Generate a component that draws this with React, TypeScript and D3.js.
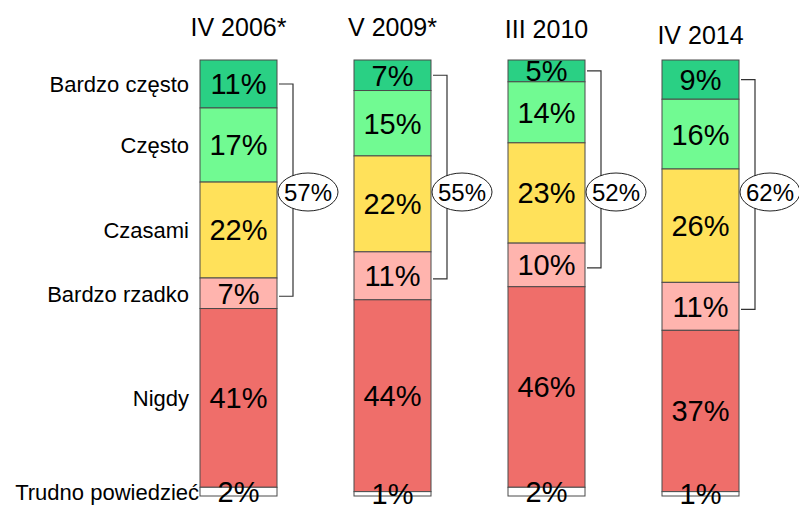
import * as React from "react";
import { useRef, useEffect } from "react";
import * as d3 from "d3";

// survey waves
const periods = ["IV 2006*", "V 2009*", "III 2010", "IV 2014"];
const categories = [
  "Bardzo często",
  "Często",
  "Czasami",
  "Bardzo rzadko",
  "Nigdy",
  "Trudno powiedzieć",
];
// percentages per period, in category order
const values2006 = [11, 17, 22, 7, 41, 2];
const values2009 = [7, 15, 22, 11, 44, 1];
const values2010 = [5, 14, 23, 10, 46, 2];
const values2014 = [9, 16, 26, 11, 37, 1];
const seriesValues = [values2006, values2009, values2010, values2014];
// "often" total shown in the bubble (first four categories)
const bracketTotals = [57, 55, 52, 62];

const colors = ["#2ad084", "#71fa92", "#ffe15a", "#ffb4ae", "#ef6e6a", "#ffffff"];
const titleDrop = [0, 0, 2, 8];

export default function App() {
  const _ref = useRef<HTMLDivElement>(null);
  useEffect(() => {
    const el = _ref.current;
    if (!el) return;
    el.innerHTML = "";
    const width = 799;
    const height = 505;
    const font = "'Liberation Sans', Arial, sans-serif";

    const svg = d3
      .select(el)
      .append("svg")
      .attr("width", width)
      .attr("height", height)
      .style("position", "absolute")
      .style("left", "0px")
      .style("top", "0px")
      .style("font-family", font);

    // bars 77 wide, 154 apart
    const x = d3.scaleBand().domain(periods).range([200, 739]).paddingInner(0.5).paddingOuter(0);
    const barW = x.bandwidth();

    const y = d3.scaleLinear().domain([0, 100]).range([60, 496]);

    periods.forEach((p, i) => {
      const vals = seriesValues[i];
      const cum = d3.cumsum(vals);
      const starts = vals.map((v, j) => cum[j] - v);
      const g = svg.append("g");
      const bx = x(p) as number;

      // title
      svg
        .append("text")
        .attr("x", bx + barW / 2)
        .attr("y", 36 + titleDrop[i])
        .attr("text-anchor", "middle")
        .style("font-size", "25px")
        .text(p);

      g.selectAll("rect")
        .data(vals)
        .join("rect")
        .attr("x", bx)
        .attr("y", (_d, j) => y(starts[j]))
        .attr("width", barW)
        .attr("height", (d) => y(d) - y(0))
        .attr("fill", (_d, j) => colors[j])
        .attr("stroke", "#4a4a4a")
        .attr("stroke-width", 1);

      g.selectAll("text")
        .data(vals)
        .join("text")
        .attr("x", bx + barW / 2)
        .attr("y", (d, j) => y(starts[j] + d / 2))
        .attr("dy", "0.36em")
        .attr("text-anchor", "middle")
        .style("font-size", "29px")
        .text((d) => `${d}%`);

      // bracket from first to fourth segment
      const yTop = y(starts[0] + vals[0] / 2);
      const yBot = y(starts[3] + vals[3] / 2) + 3;
      const right = bx + barW;
      svg
        .append("path")
        .attr("d", `M${right + 2},${yTop}H${right + 16}V${yBot}H${right + 2}`)
        .attr("fill", "none")
        .attr("stroke", "#333")
        .attr("stroke-width", 1.2);

      const ey = 192;
      svg
        .append("ellipse")
        .attr("cx", right + 31)
        .attr("cy", ey)
        .attr("rx", 30)
        .attr("ry", 19)
        .attr("fill", "#fff")
        .attr("stroke", "#222")
        .attr("stroke-width", 1);
      svg
        .append("text")
        .attr("x", right + 31)
        .attr("y", ey)
        .attr("dy", "0.36em")
        .attr("text-anchor", "middle")
        .style("font-size", "24px")
        .text(`${bracketTotals[i]}%`);
    });

    // category labels, aligned on the first bar
    const first = seriesValues[0];
    const firstCum = d3.cumsum(first);
    svg
      .append("g")
      .selectAll("text")
      .data(categories)
      .join("text")
      .attr("x", (_d, j) => (j === categories.length - 1 ? 199 : 189))
      .attr("y", (_d, j) => y(firstCum[j] - first[j] / 2))
      .attr("dy", "0.38em")
      .attr("text-anchor", "end")
      .style("font-size", "22px")
      .text((d) => d);
  }, []);

  return <div ref={_ref}></div>;
}
